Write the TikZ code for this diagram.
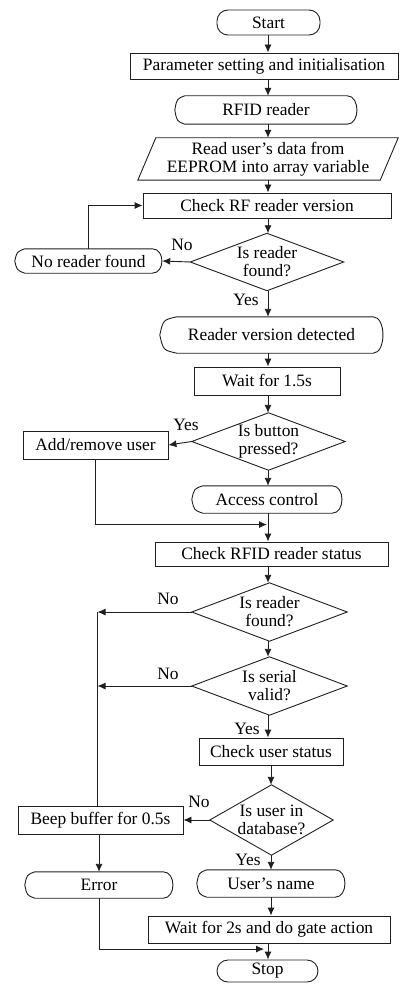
\documentclass[tikz,border=0pt]{standalone}
\usepackage{fontspec}
\setmainfont{Liberation Serif}
\usetikzlibrary{calc,arrows.meta}

\definecolor{edgecol}{gray}{0.12}

% outline of a "display" symbol: pointed left end (depth #2), rounded right end
\newcommand\dispoutline[2]{%
  \draw[shapeline] ($(#1.north west)+(#2,0)$) -- ($(#1.north east)+(-10,0)$)
    .. controls +(13,0) and +(13,0) .. ($(#1.south east)+(-10,0)$)
    -- ($(#1.south west)+(#2,0)$)
    .. controls ($(#1.south west)+(0.2*#2,-3)$) .. (#1.west)
    .. controls ($(#1.north west)+(0.2*#2,3)$) .. ($(#1.north west)+(#2,0)$) -- cycle;}
% decision diamond spanning the node box
\newcommand\diaoutline[1]{%
  \draw[shapeline] (#1.north) -- (#1.east) -- (#1.south) -- (#1.west) -- cycle;}
% input/output parallelogram spanning the node box
\newcommand\paraoutline[2]{%
  \draw[shapeline] ($(#1.north west)+(#2,0)$) -- (#1.north east)
    -- ($(#1.south east)+(-#2,0)$) -- (#1.south west) -- cycle;}

\begin{document}
\begin{tikzpicture}[x=1pt,y=-1pt,
  every node/.style={font=\fontsize{17.4}{18}\selectfont, text=black, inner sep=0pt, align=center},
  shapeline/.style={draw=edgecol, line width=0.9pt},
  procbox/.style={shapeline},
  term/.style={shapeline, rounded corners=11pt},
  free/.style={},
  lbl/.style={},
  wire/.style={draw=edgecol, line width=0.9pt},
  arr/.style={wire, -{Latex[length=8pt,width=7pt]}},
]
\useasboundingbox (0,0) rectangle (399,984);

% axis coordinates for the vertical flow lines
\coordinate (ax) at (268,0);
\coordinate (axb) at (271,0);
\coordinate (bus) at (97.5,0);

% ---- nodes ----
\node[term, minimum width=103pt, minimum height=25pt] (start) at (268.5,22.5) {Start};
\node[procbox, minimum width=268pt, minimum height=26pt] (param) at (264,66) {Parameter setting and initialisation};
\node[free, minimum width=182pt, minimum height=28pt] (rfid) at (266,110) {RFID reader};
\node[free, minimum width=260pt, minimum height=42pt] (eeprom) at (268,159) {Read user's data from\\EEPROM into array variable};
\node[procbox, minimum width=248pt, minimum height=25pt] (checkRF) at (267,205.5) {Check RF reader version};
\node[free, minimum width=153pt, minimum height=57pt] (dia1) at (267,262) {Is reader\\found?};
\node[free, minimum width=147pt, minimum height=24pt] (noreader) at (88.5,261) {No reader found};
\node[lbl] (no1) at (182,245) {No};
\node[lbl] (yes1) at (246,300) {Yes};
\node[free, minimum width=223pt, minimum height=36pt] (rvd) at (271.5,335) {Reader version detected};
\node[procbox, minimum width=146pt, minimum height=28pt] (wait15) at (267,381) {Wait for 1.5s};
\node[free, minimum width=153pt, minimum height=57pt] (dia2) at (268.5,441.5) {Is button\\pressed?};
\node[procbox, minimum width=145pt, minimum height=28pt] (addrm) at (95.5,445) {Add/remove user};
\node[lbl] (yes2) at (186,425) {Yes};
\node[free, minimum width=150pt, minimum height=27pt] (access) at (267,499.5) {Access control};
\node[procbox, minimum width=233pt, minimum height=24pt] (checkRFID) at (271.5,554) {Check RFID reader status};
\node[free, minimum width=155pt, minimum height=58pt] (dia3) at (269.5,612) {Is reader\\found?};
\node[lbl] (no3) at (168,599) {No};
\node[free, minimum width=155pt, minimum height=58pt] (dia4) at (269.5,686) {Is serial\\valid?};
\node[lbl] (no4) at (168,674) {No};
\node[lbl] (yes4) at (247,729) {Yes};
\node[procbox, minimum width=144pt, minimum height=27pt] (checkuser) at (271,751.5) {Check user status};
\node[free, minimum width=123pt, minimum height=70pt] (dia5) at (271.5,820) {Is user in\\database?};
\node[procbox, minimum width=165pt, minimum height=28pt] (beep) at (100.5,820) {Beep buffer for 0.5s};
\node[lbl] (no5) at (199,802) {No};
\node[lbl] (yes5) at (248,860) {Yes};
\node[free, minimum width=148pt, minimum height=26pt] (error) at (99,885) {Error};
\node[free, minimum width=148pt, minimum height=27pt] (username) at (271,883.5) {User's name};
\node[procbox, minimum width=242pt, minimum height=27pt] (wait2) at (269,929.5) {Wait for 2s and do gate action};
\node[term, minimum width=101pt, minimum height=22pt] (stop) at (267.5,971) {Stop};

% ---- outlines of drawn symbols ----
\dispoutline{rfid}{10}
\paraoutline{eeprom}{18}
\diaoutline{dia1}
\dispoutline{noreader}{10}
\dispoutline{rvd}{17}
\diaoutline{dia2}
\dispoutline{access}{11}
\diaoutline{dia3}
\diaoutline{dia4}
\diaoutline{dia5}
\dispoutline{error}{10}
\dispoutline{username}{10}

% ---- connectors ----
\draw[arr] (start.south -| ax) -- (param.north -| ax);
\draw[arr] (param.south -| ax) -- (rfid.north -| ax);
\draw[arr] (rfid.south -| ax) -- (eeprom.north -| ax);
\draw[arr] (eeprom.south -| ax) -- (checkRF.north -| ax);
\draw[arr] (checkRF.south -| ax) -- (dia1.north -| ax);
\draw[arr] (dia1.west) -- (noreader.east);
\draw[arr] (noreader.north) |- (checkRF.west);
\draw[arr] (dia1.south -| ax) -- (rvd.north -| ax);
\draw[arr] (rvd.south -| ax) -- (wait15.north -| ax);
\draw[arr] (wait15.south -| ax) -- (dia2.north -| ax);
\draw[arr] (dia2.west) -- (addrm.east);
\draw[arr] (dia2.south -| ax) -- (access.north -| ax);
\coordinate (j1) at ($(access.south -| ax)!0.4!(checkRFID.north -| ax)$);
\draw[arr] (access.south -| ax) -- (checkRFID.north -| ax);
\draw[arr] (addrm.south) |- ([xshift=-1pt]j1);
\draw[arr] (checkRFID.south -| ax) -- (dia3.north -| ax);
\draw[arr] (dia3.west) -- (dia3.west -| bus);
\draw[arr] (dia3.south -| ax) -- (dia4.north -| ax);
\draw[arr] (dia4.west) -- (dia4.west -| bus);
\draw[arr] (dia4.south -| ax) -- (checkuser.north -| ax);
\draw[wire] (dia3.west -| bus) -- (beep.north -| bus);
\draw[arr] (checkuser.south -| axb) -- (dia5.north -| axb);
\draw[arr] (dia5.west) -- (beep.east);
\draw[arr] (dia5.south -| axb) -- (username.north -| axb);
\draw[arr] (beep.south -| error.north) -- (error.north);
\draw[arr] (username.south -| axb) -- (wait2.north -| axb);
\coordinate (j2) at ($(wait2.south -| ax)!0.35!(stop.north -| ax)$);
\draw[arr] (wait2.south -| ax) -- (stop.north -| ax);
\draw[arr] (error.south) |- ([xshift=-4pt]j2);
\end{tikzpicture}
\end{document}
